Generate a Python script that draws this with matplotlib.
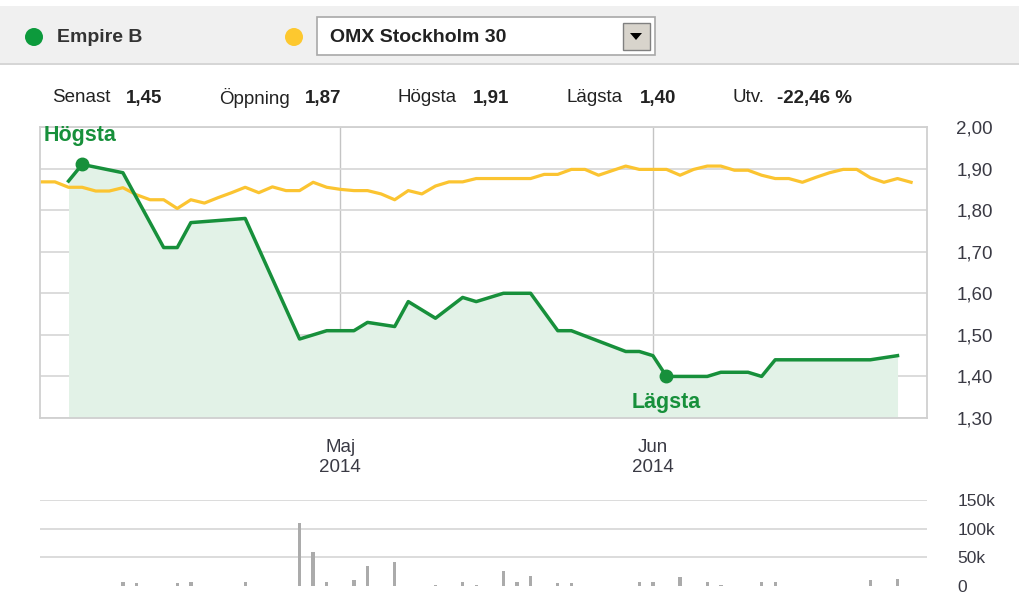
import numpy as np
import matplotlib.pyplot as plt
from matplotlib.patches import Rectangle, Polygon, Ellipse
from matplotlib.ticker import FuncFormatter

plt.rcParams['font.family'] = ['Liberation Sans', 'DejaVu Sans']

# OMX Stockholm 30 (rebased), one value per trading day
omx_vals = [1.868, 1.868, 1.855, 1.855, 1.846, 1.846, 1.854, 1.837, 1.825, 1.825,
            1.804, 1.825, 1.817, 1.830, 1.842, 1.855, 1.842, 1.856, 1.847, 1.847,
            1.867, 1.855, 1.850, 1.847, 1.847, 1.839, 1.825, 1.847, 1.839, 1.858,
            1.868, 1.868, 1.876, 1.876, 1.876, 1.876, 1.876, 1.886, 1.886, 1.898,
            1.898, 1.884, 1.895, 1.906, 1.898, 1.898, 1.898, 1.884, 1.898, 1.906,
            1.906, 1.896, 1.896, 1.884, 1.876, 1.876, 1.867, 1.879, 1.890, 1.898,
            1.898, 1.878, 1.867, 1.876, 1.867]
omx_x = np.arange(len(omx_vals))

# Empire B closing prices (trading day index)
emp_x = [2, 3, 6, 9, 10, 11, 15, 19, 20, 21, 23, 24, 26, 27, 29, 31, 32, 34, 36,
         38, 39, 43, 44, 45, 46, 49, 50, 52, 53, 54, 61, 63]
emp_y = [1.87, 1.91, 1.89, 1.71, 1.71, 1.77, 1.78, 1.49, 1.50, 1.51, 1.51, 1.53,
         1.52, 1.58, 1.54, 1.59, 1.58, 1.60, 1.60, 1.51, 1.51, 1.46, 1.46, 1.45,
         1.40, 1.40, 1.41, 1.41, 1.40, 1.44, 1.44, 1.45]

# volume
vol_x = [6, 7, 10, 11, 15, 19, 20, 21, 23, 24, 26, 29, 31, 32, 34, 35, 36, 38, 39,
         44, 45, 47, 49, 50, 53, 54, 61, 63]
vol_y = [7500, 4500, 4500, 7500, 7500, 110000, 60000, 7500, 11000, 35000, 41000,
         1500, 7500, 1500, 26000, 7500, 17000, 4500, 4500, 7500, 7500, 16000, 7500,
         1500, 7500, 7500, 10000, 12000]

month_pos = [22, 45]
month_labels = ['Maj\n2014', 'Jun\n2014']

stat_names = ['Senast', 'Öppning', 'Högsta', 'Lägsta', 'Utv.']
stat_values = ['1,45', '1,87', '1,91', '1,40', '-22,46 %']

GREEN = '#17903b'
YELLOW = '#fbc431'
GRID = '#d9d9d9'
TXT = '#222222'

W, H = 1020, 594
fig = plt.figure(figsize=(W / 100, H / 100), dpi=100)


def fx(px):
    return px / W


def fy(py):
    return 1 - py / H


# header band
fig.add_artist(Rectangle((0, fy(63)), 1, fy(6) - fy(63), transform=fig.transFigure,
                         facecolor='#f0f0f0', edgecolor='none'))
fig.add_artist(Rectangle((0, fy(65)), 1, fy(63) - fy(65), transform=fig.transFigure,
                         facecolor='#d6d6d6', edgecolor='none'))
fig.add_artist(Ellipse((fx(34), fy(37)), 18 / W, 18 / H, transform=fig.transFigure,
                       facecolor='#0c9a3c', edgecolor='none'))
fig.text(fx(57), fy(37), 'Empire B', fontsize=14, fontweight='bold', color='#333333',
         va='center', ha='left')
fig.add_artist(Ellipse((fx(294), fy(37)), 18 / W, 18 / H, transform=fig.transFigure,
                       facecolor='#fdc82f', edgecolor='none'))
fig.add_artist(Rectangle((fx(317), fy(55)), fx(655) - fx(317), fy(17) - fy(55),
                         transform=fig.transFigure, facecolor='white',
                         edgecolor='#a8a8a8', linewidth=1.2))
fig.text(fx(330), fy(37), 'OMX Stockholm 30', fontsize=14, fontweight='bold',
         color='#222222', va='center', ha='left')
fig.add_artist(Rectangle((fx(623), fy(50)), fx(650) - fx(623), fy(23) - fy(50),
                         transform=fig.transFigure, facecolor='#d8d4cc',
                         edgecolor='#808080', linewidth=1.0))
fig.add_artist(Polygon([(fx(630), fy(33)), (fx(642), fy(33)), (fx(636), fy(40))],
                       closed=True, transform=fig.transFigure, facecolor='black',
                       edgecolor='none'))

# stats row
name_x = [52, 219, 398, 566, 733]
val_x = [126, 305, 473, 640, 777]
for nx, vx, n, v in zip(name_x, val_x, stat_names, stat_values):
    fig.text(fx(nx), fy(98), n, fontsize=13.5, color=TXT, va='center', ha='left')
    fig.text(fx(vx), fy(98), v, fontsize=13.5, fontweight='bold', color=TXT,
             va='center', ha='left')

# price chart
ax = fig.add_axes([fx(40), fy(418), fx(927) - fx(40), fy(127) - fy(418)])
ax.set_xlim(-0.1, 65.17)
ax.set_ylim(1.30, 2.00)
ax.set_yticks(np.arange(1.30, 2.001, 0.10))
ax.yaxis.set_major_formatter(FuncFormatter(lambda v, p: f'{v:.2f}'.replace('.', ',')))
ax.yaxis.tick_right()
ax.tick_params(axis='y', length=0, pad=21, labelsize=13.5, labelcolor='#3a3a44')
ax.set_xticks(month_pos)
ax.set_xticklabels(month_labels, linespacing=1.25)
ax.tick_params(axis='x', length=0, pad=15, labelsize=13.5, labelcolor='#3a3a44')
ax.grid(axis='y', color=GRID, linewidth=1.3)
ax.grid(axis='x', color='#c4c4c4', linewidth=1.0)
ax.set_axisbelow(True)
for s in ax.spines.values():
    s.set_color('#d0d0d0')
    s.set_linewidth(1.3)

ax.fill_between(emp_x, emp_y, 1.30, color='#e2f2e7', linewidth=0)
ax.plot(omx_x, omx_vals, color=YELLOW, linewidth=2.3, solid_joinstyle='round')
ax.plot(emp_x, emp_y, color=GREEN, linewidth=2.5, solid_joinstyle='round')

i_hi = int(np.argmax(emp_y))
i_lo = int(np.argmin(emp_y))
ax.plot(emp_x[i_hi], emp_y[i_hi], 'o', color=GREEN, markersize=9)
ax.plot(emp_x[i_lo], emp_y[i_lo], 'o', color=GREEN, markersize=9)
ax.annotate('Högsta', (emp_x[i_hi], emp_y[i_hi]), xytext=(-28, 21),
            textcoords='offset points', ha='left', va='center', fontsize=15.5,
            fontweight='bold', color=GREEN)
ax.annotate('Lägsta', (emp_x[i_lo], emp_y[i_lo]), xytext=(0, -19),
            textcoords='offset points', ha='center', va='center', fontsize=15.5,
            fontweight='bold', color=GREEN)

# volume chart
axv = fig.add_axes([fx(40), fy(586), fx(927) - fx(40), fy(500) - fy(586)])
axv.set_xlim(-0.1, 65.17)
axv.set_ylim(0, 150000)
axv.bar(vol_x, vol_y, width=0.25, color='#ababab')
axv.set_yticks([0, 50000, 100000, 150000])
axv.set_yticklabels(['0', '50k', '100k', '150k'])
axv.yaxis.tick_right()
axv.tick_params(axis='y', length=0, pad=22, labelsize=12.5, labelcolor='#3a3a44')
axv.set_xticks([])
for s in axv.spines.values():
    s.set_visible(False)
for g in [50000, 100000, 150000]:
    axv.axhline(g, color=GRID, linewidth=1.3, zorder=0)

fig.savefig('out.png', dpi=100)
